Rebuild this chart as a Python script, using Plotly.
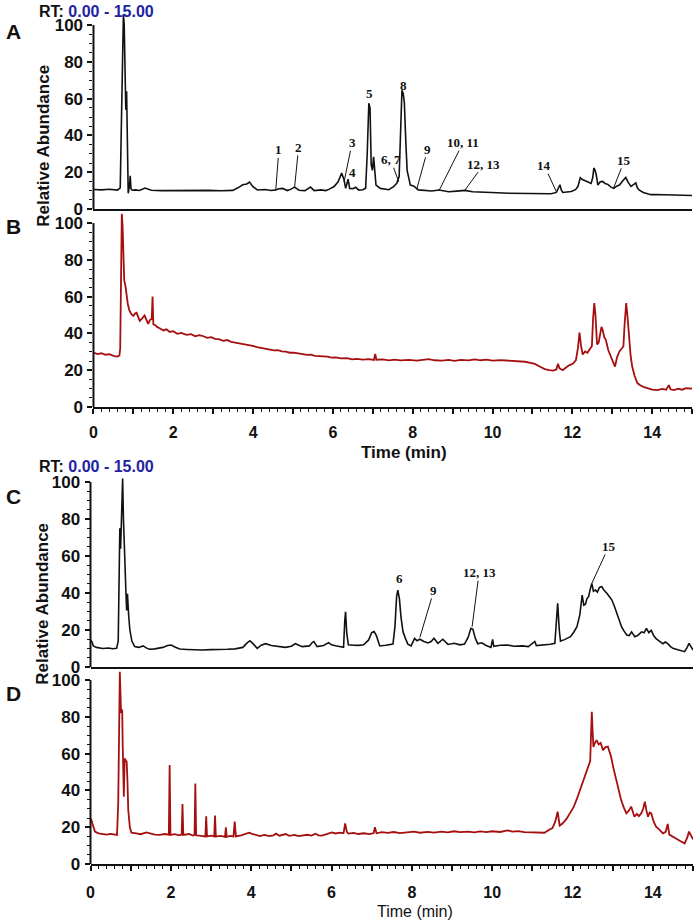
import plotly.graph_objects as go

# ---------------- data ----------------
A_t = [0.00, 0.20, 0.40, 0.60, 0.67, 0.70, 0.73, 0.75, 0.77, 0.79, 0.81, 0.83, 0.85, 0.87, 0.90, 0.92, 0.94, 0.97,
       1.05, 1.15, 1.29, 1.45, 1.70, 2.00, 2.30, 2.60, 2.90, 3.20, 3.49, 3.62, 3.74, 3.84, 3.91, 3.99, 4.11, 4.30,
       4.45, 4.57, 4.65, 4.74, 4.86, 4.95, 5.04, 5.15, 5.30, 5.44, 5.53, 5.70, 5.82, 5.91, 6.03, 6.13, 6.22, 6.28,
       6.32, 6.38, 6.42, 6.50, 6.57, 6.65, 6.75, 6.82, 6.86, 6.90, 6.93, 6.96, 6.99, 7.02, 7.05, 7.08, 7.19, 7.30,
       7.40, 7.52, 7.60, 7.66, 7.70, 7.73, 7.76, 7.79, 7.83, 7.86, 7.94, 8.02, 8.14, 8.30, 8.48, 8.66, 8.90, 9.10,
       9.31, 9.50, 9.72, 9.90, 10.13, 10.40, 10.70, 10.97, 11.20, 11.47, 11.60, 11.66, 11.69, 11.72, 11.76, 11.97,
       12.08, 12.14, 12.20, 12.25, 12.30, 12.38, 12.47, 12.51, 12.54, 12.57, 12.60, 12.64, 12.70, 12.76, 12.82,
       12.89, 12.96, 13.04, 13.11, 13.18, 13.26, 13.34, 13.40, 13.47, 13.55, 13.59, 13.63, 13.68, 13.78, 13.90,
       13.97, 14.10, 14.30, 14.50, 14.70, 14.90, 15.00]
A_v = [10.6, 10.4, 10.7, 10.3, 11.5, 45.0, 80.0, 106.0, 100.0, 72.0, 54.0, 64.0, 40.0, 8.5, 12.0, 18.0, 11.0, 10.2,
       10.4, 10.1, 11.4, 10.2, 10.0, 10.1, 9.9, 10.0, 10.1, 9.9, 10.1, 11.5, 13.2, 13.6, 14.6, 12.3, 10.3, 10.6,
       10.1, 10.4, 11.0, 11.2, 10.0, 10.8, 11.9, 10.2, 10.0, 11.9, 10.0, 10.4, 10.0, 10.8, 12.2, 14.8, 19.5, 15.8,
       11.2, 16.2, 11.2, 11.0, 11.8, 10.3, 10.5, 11.3, 30.0, 57.5, 55.0, 24.0, 21.0, 28.4, 20.0, 13.0, 11.2, 11.0,
       10.5, 12.1, 14.0, 17.6, 40.0, 64.5, 63.0, 58.0, 35.0, 21.0, 13.0, 12.5, 10.4, 10.0, 9.8, 10.3, 9.4, 9.7,
       10.1, 9.4, 9.1, 9.0, 8.8, 8.6, 8.5, 8.3, 8.4, 8.3, 9.0, 11.5, 13.2, 10.5, 9.0, 9.5,
       10.5, 12.2, 17.0, 16.0, 15.4, 14.8, 13.9, 17.0, 22.3, 21.0, 18.5, 13.0, 14.8, 15.0, 13.8,
       13.4, 12.0, 11.2, 12.4, 13.0, 15.2, 17.2, 14.5, 12.3, 13.5, 14.2, 11.5, 10.2, 9.0, 8.2,
       7.8, 7.9, 7.7, 7.8, 7.5, 7.4, 7.3]

B_t = [0.00, 0.10, 0.20, 0.30, 0.40, 0.50, 0.60, 0.65, 0.67, 0.69, 0.71, 0.73, 0.75, 0.77, 0.80, 0.82, 0.86, 0.90,
       0.95, 1.00, 1.04, 1.08, 1.12, 1.16, 1.22, 1.28, 1.33, 1.37, 1.42, 1.46, 1.48, 1.50, 1.55, 1.60, 1.66, 1.75,
       1.83, 1.91, 2.00, 2.10, 2.20, 2.33, 2.45, 2.55, 2.65, 2.74, 2.85, 2.95, 3.05, 3.16, 3.25, 3.35, 3.45, 3.57,
       3.68, 3.78, 3.88, 3.99, 4.10, 4.20, 4.30, 4.41, 4.52, 4.62, 4.72, 4.82, 4.92, 5.02, 5.13, 5.24, 5.35, 5.45,
       5.55, 5.65, 5.76, 5.86, 5.96, 6.07, 6.20, 6.35, 6.48, 6.60, 6.75, 6.90, 7.03, 7.06, 7.09, 7.25, 7.40, 7.55,
       7.70, 7.90, 8.10, 8.25, 8.40, 8.55, 8.73, 8.90, 9.05, 9.20, 9.40, 9.56, 9.70, 9.85, 10.00, 10.20, 10.39,
       10.60, 10.81, 10.95, 11.06, 11.18, 11.31, 11.42, 11.52, 11.60, 11.64, 11.68, 11.76, 11.85, 11.93, 12.02,
       12.09, 12.14, 12.18, 12.22, 12.26, 12.32, 12.38, 12.44, 12.49, 12.52, 12.55, 12.58, 12.62, 12.66, 12.70,
       12.73, 12.76, 12.80, 12.84, 12.90, 12.97, 13.03, 13.07, 13.12, 13.18, 13.24, 13.28, 13.31, 13.35, 13.38,
       13.42, 13.46, 13.50, 13.56, 13.63, 13.70, 13.80, 13.90, 14.00, 14.13, 14.25, 14.35, 14.42, 14.46, 14.55,
       14.65, 14.75, 14.85, 14.95, 15.00]
B_v = [29.5, 28.8, 29.2, 28.4, 28.7, 27.8, 27.4, 28.0, 32.0, 70.0, 105.0, 98.0, 80.0, 69.0, 66.0, 62.0, 56.0, 52.5,
       50.5, 49.5, 50.8, 51.2, 48.5, 46.8, 48.2, 49.8, 47.2, 45.2, 47.5, 47.8, 60.0, 45.0, 44.5, 43.4, 42.8, 41.6,
       42.2, 40.8, 41.2, 39.8, 40.3, 39.2, 39.6, 38.4, 39.0, 38.6, 37.6, 38.0, 37.0, 36.8, 36.0, 36.4, 35.4, 35.0,
       34.6, 34.0, 33.6, 33.2, 32.6, 32.2, 31.6, 31.3, 30.8, 30.9, 30.2, 30.1, 29.5, 29.6, 29.0, 28.8, 28.3, 28.4,
       27.8, 27.7, 27.2, 27.4, 26.8, 27.0, 26.4, 26.6, 25.9, 26.2, 25.8, 26.0, 25.6, 28.8, 25.7, 25.9, 25.4, 25.8,
       25.3, 25.6, 25.2, 25.7, 26.0, 25.4, 25.2, 25.6, 25.1, 25.6, 25.3, 25.9, 25.4, 25.7, 25.2, 25.5, 25.2,
       25.0, 24.6, 24.0, 23.4, 22.0, 20.6, 20.0, 19.8, 20.4, 23.5, 21.0, 20.0, 21.6, 22.8, 23.6,
       25.5, 32.0, 40.5, 33.0, 28.5, 30.2, 29.5, 31.5, 33.0, 48.0, 56.5, 50.0, 34.0, 35.0, 40.5,
       43.5, 42.0, 38.0, 36.5, 31.0, 27.2, 23.5, 22.0, 27.0, 30.2, 31.8, 33.0, 45.0, 56.5, 50.0,
       38.0, 28.0, 22.0, 17.0, 13.0, 11.8, 10.8, 10.2, 9.5, 9.2, 9.8, 9.4, 11.9, 9.6, 9.2,
       10.0, 9.4, 10.2, 9.8, 10.0]

C_t = [0.00, 0.04, 0.07, 0.15, 0.30, 0.45, 0.55, 0.65, 0.69, 0.71, 0.73, 0.75, 0.77, 0.80, 0.82, 0.84, 0.86, 0.88,
       0.90, 0.92, 0.95, 0.98, 1.03, 1.10, 1.20, 1.31, 1.40, 1.47, 1.60, 1.80, 1.92, 2.01, 2.10, 2.22, 2.40, 2.60,
       2.79, 3.00, 3.20, 3.40, 3.60, 3.79, 3.90, 3.97, 4.05, 4.15, 4.25, 4.36, 4.50, 4.65, 4.85, 5.00, 5.10, 5.27,
       5.45, 5.52, 5.56, 5.64, 5.80, 5.93, 6.00, 6.10, 6.20, 6.30, 6.33, 6.35, 6.38, 6.42, 6.55, 6.67, 6.80, 6.92,
       7.00, 7.06, 7.12, 7.20, 7.35, 7.53, 7.58, 7.62, 7.65, 7.69, 7.73, 7.78, 7.84, 7.90, 7.98, 8.07, 8.13, 8.20,
       8.30, 8.40, 8.48, 8.55, 8.65, 8.77, 8.90, 9.05, 9.20, 9.31, 9.40, 9.47, 9.52, 9.58, 9.64, 9.74, 9.85, 9.97,
       10.01, 10.04, 10.20, 10.38, 10.55, 10.75, 10.90, 11.06, 11.10, 11.30, 11.45, 11.56, 11.60, 11.63, 11.67,
       11.70, 11.80, 11.95, 12.03, 12.11, 12.18, 12.24, 12.28, 12.32, 12.36, 12.40, 12.44, 12.48, 12.52, 12.57,
       12.62, 12.67, 12.73, 12.78, 12.86, 12.92, 12.98, 13.04, 13.10, 13.16, 13.22, 13.28, 13.35, 13.41, 13.47,
       13.55, 13.62, 13.68, 13.72, 13.78, 13.84, 13.90, 13.96, 14.02, 14.08, 14.16, 14.25, 14.31, 14.37, 14.44,
       14.50, 14.60, 14.70, 14.79, 14.85, 14.90, 14.96, 15.00]
C_v = [14.6, 13.5, 11.4, 10.6, 10.0, 10.3, 9.9, 10.1, 14.0, 55.0, 75.0, 64.0, 85.0, 102.0, 80.0, 63.0, 45.0, 41.6,
       30.6, 39.6, 28.0, 20.0, 14.0, 11.0, 10.6, 11.4, 10.2, 9.6, 9.8, 10.6, 11.6, 11.9, 10.8, 9.7, 9.5, 9.3,
       9.2, 9.4, 9.3, 9.6, 9.8, 10.6, 13.0, 14.2, 12.5, 10.1, 11.8, 12.6, 11.6, 11.0, 10.6, 11.2, 12.6, 11.0,
       11.4, 13.2, 13.7, 11.0, 11.6, 13.2, 12.0, 11.5, 11.2, 10.6, 25.0, 29.9, 18.0, 12.0, 11.8, 11.7, 12.0, 14.5,
       18.6, 19.2, 16.8, 11.4, 11.8, 12.4, 22.0, 38.0, 41.6, 37.0, 27.0, 19.0, 15.5, 12.4, 11.4, 15.5, 14.2, 15.0,
       13.8, 13.0, 13.8, 15.5, 12.8, 15.0, 12.2, 12.8, 12.0, 12.4, 16.0, 20.9, 20.4, 15.5, 12.6, 13.1, 11.6, 10.6,
       14.9, 11.2, 11.8, 11.9, 11.2, 11.4, 11.0, 13.8, 11.6, 11.8, 12.3, 12.8, 24.0, 34.4, 20.0,
       14.0, 14.8, 16.4, 18.8, 21.8, 28.0, 38.9, 33.4, 34.0, 37.0, 38.0, 42.0, 45.2, 41.0, 41.6,
       40.5, 43.0, 43.4, 41.6, 39.8, 38.2, 36.2, 33.0, 29.0, 25.0, 21.8, 19.5, 17.3, 17.0, 19.0,
       16.4, 17.0, 18.2, 19.0, 18.5, 20.9, 18.6, 19.8, 17.0, 15.3, 14.0, 12.6, 13.5, 12.6, 11.0,
       10.1, 9.5, 9.0, 8.3, 10.5, 12.8, 10.6, 9.2]

D_t = [0.00, 0.03, 0.06, 0.11, 0.20, 0.30, 0.40, 0.50, 0.60, 0.66, 0.69, 0.71, 0.73, 0.75, 0.76, 0.78, 0.79, 0.80,
       0.82, 0.83, 0.85, 0.87, 0.90, 0.92, 0.94, 0.98, 1.02, 1.14, 1.25, 1.39, 1.50, 1.60, 1.72, 1.85, 1.95, 1.97,
       1.99, 2.10, 2.20, 2.27, 2.29, 2.31, 2.45, 2.55, 2.59, 2.61, 2.63, 2.75, 2.86, 2.88, 2.90, 3.00, 3.08, 3.10,
       3.12, 3.25, 3.35, 3.37, 3.39, 3.48, 3.56, 3.59, 3.62, 3.75, 3.88, 3.95, 4.02, 4.11, 4.22, 4.33, 4.45, 4.55,
       4.62, 4.70, 4.86, 4.95, 5.08, 5.18, 5.27, 5.40, 5.50, 5.60, 5.68, 5.76, 5.88, 6.01, 6.10, 6.20, 6.30, 6.34,
       6.38, 6.42, 6.55, 6.67, 6.80, 6.95, 7.05, 7.08, 7.12, 7.25, 7.40, 7.55, 7.70, 7.90, 8.05, 8.20, 8.40, 8.55,
       8.73, 8.90, 9.05, 9.20, 9.40, 9.55, 9.70, 9.85, 10.00, 10.20, 10.38, 10.50, 10.65, 10.80, 10.95, 11.10,
       11.20, 11.30, 11.41, 11.50, 11.57, 11.63, 11.68, 11.75, 11.85, 11.94, 12.03, 12.11, 12.19, 12.27, 12.34,
       12.40, 12.44, 12.46, 12.48, 12.50, 12.52, 12.56, 12.60, 12.65, 12.70, 12.76, 12.82, 12.88, 12.92, 12.96,
       13.02, 13.09, 13.15, 13.21, 13.28, 13.34, 13.40, 13.46, 13.54, 13.60, 13.65, 13.71, 13.76, 13.80, 13.84,
       13.88, 13.92, 13.96, 14.02, 14.08, 14.15, 14.25, 14.32, 14.37, 14.41, 14.50, 14.58, 14.68, 14.79, 14.85,
       14.90, 14.96, 15.00]
D_v = [24.8, 23.5, 21.0, 17.6, 16.7, 16.3, 16.0, 16.4, 15.8, 15.8, 33.0, 75.0, 104.5, 90.0, 82.0, 84.0, 83.0, 66.5,
       48.0, 36.6, 57.4, 56.5, 55.6, 45.0, 29.3, 20.0, 17.0, 16.7, 16.2, 17.2, 16.5, 16.0, 15.8, 16.3, 15.9, 53.8,
       15.8, 16.2, 15.6, 16.0, 32.6, 15.8, 16.3, 15.5, 15.8, 43.8, 15.6, 15.2, 15.0, 26.0, 15.0, 15.4, 15.0, 26.3,
       15.0, 15.3, 14.8, 20.0, 14.8, 15.3, 15.0, 23.0, 15.0, 15.6, 16.4, 17.0, 16.4, 15.8, 15.2, 15.8, 15.2, 15.6,
       16.5, 15.4, 16.3, 15.3, 15.8, 15.2, 15.6, 15.9, 15.4, 16.5, 15.6, 15.4, 16.2, 17.2, 16.6, 17.0, 16.8, 22.1,
       17.5, 16.5, 16.9, 16.3, 16.7, 16.2, 16.8, 20.0, 16.7, 17.3, 16.9, 17.4, 16.8, 17.2, 17.6, 17.0, 17.5, 17.1,
       17.6, 17.2, 17.8, 17.3, 17.6, 17.2, 17.7, 17.3, 17.8, 17.4, 18.3, 17.6, 17.9, 17.3, 17.2, 16.8,
       16.7, 17.0, 18.5, 19.5, 23.0, 28.4, 20.9, 22.0, 24.5, 27.4, 31.0, 35.5, 40.2, 45.0, 49.0,
       52.9, 56.0, 70.0, 82.8, 72.0, 63.6, 66.0, 67.3, 65.0, 65.8, 61.9, 63.5, 63.8, 61.0, 58.3,
       52.0, 45.7, 39.0, 34.8, 30.5, 27.5, 29.0, 31.2, 25.7, 27.2, 26.0, 27.5, 30.0, 33.9, 29.0,
       25.7, 28.0, 27.5, 23.0, 20.3, 19.0, 16.7, 17.5, 21.8, 16.0, 14.8, 13.4, 12.5, 11.2, 14.0,
       17.6, 15.0, 13.4]

# peak labels: (text, retention time, abundance, text offset x px, text offset y px)
A_labels = [("1", 4.57, 10.9, 3, -39), ("2", 5.04, 11.8, 4, -40), ("3", 6.28, 14.8, 8, -39),
            ("6, 7", 7.65, 14.8, -8, -22), ("9", 8.10, 10.7, 11, -40), ("10, 11", 8.66, 10.0, 24, -48),
            ("12, 13", 9.31, 10.3, 19, -26), ("14", 11.60, 9.4, -12, -26), ("15", 13.03, 11.2, 11, -28)]
A_plain_labels = [("4", 6.48, 19.6), ("5", 6.92, 62.9), ("8", 7.77, 67.4)]
C_labels = [("9", 8.20, 16.0, 14, -47), ("12, 13", 9.50, 21.8, 7, -54), ("15", 12.48, 45.2, 17, -37)]
C_plain_labels = [("6", 7.70, 48.1)]

x_major = list(range(0, 16))
x_labels = [str(v) if v % 2 == 0 else "" for v in x_major]
x_minor = [round(i * 0.2, 1) for i in range(76) if i % 5 != 0]
y_major = [0, 20, 40, 60, 80, 100]
y_minor = [v for v in range(5, 100, 5) if v % 20 != 0]

# ---------------- styling ----------------
SANS = "Liberation Sans, Arial, sans-serif"
SERIF = "Liberation Serif, Times New Roman, serif"
BLACK = "#111111"
RED = "#a50f0f"
BLUE = "#1f23a3"

W, H = 699, 931          # page is photographed at 921 px tall; layout fractions follow the 699x921 reference
REF_H = 921

XDOM_TOP = [90 / W, 692 / W]
XDOM_BOT = [87 / W, 693 / W]
YDOM = {"A": [1 - 209 / REF_H, 1 - 14 / REF_H], "B": [1 - 407 / REF_H, 1 - 212 / REF_H],
        "C": [1 - 667 / REF_H, 1 - 471 / REF_H], "D": [1 - 864 / REF_H, 1 - 669 / REF_H]}

fig = go.Figure()
fig.add_trace(go.Scatter(x=A_t, y=A_v, mode="lines", line=dict(color=BLACK, width=1.6), xaxis="x", yaxis="y"))
fig.add_trace(go.Scatter(x=B_t, y=B_v, mode="lines", line=dict(color=RED, width=1.8), xaxis="x2", yaxis="y2"))
fig.add_trace(go.Scatter(x=C_t, y=C_v, mode="lines", line=dict(color=BLACK, width=1.6), xaxis="x3", yaxis="y3"))
fig.add_trace(go.Scatter(x=D_t, y=D_v, mode="lines", line=dict(color=RED, width=1.8), xaxis="x4", yaxis="y4"))


def yaxis(dom, anchor):
    return dict(domain=dom, anchor=anchor, range=[0, 106], showline=False, showgrid=False, zeroline=False,
                ticks="outside", tickmode="array", tickvals=y_major, ticklen=5, tickwidth=1.6, tickcolor=BLACK,
                tickfont=dict(family=SANS, size=17, color=BLACK, weight="bold"), ticklabelstandoff=1,
                minor=dict(tickmode="array", tickvals=y_minor, ticks="outside", ticklen=3, tickwidth=1.3,
                           tickcolor=BLACK))


def xaxis_plain(dom, anchor):
    return dict(domain=dom, anchor=anchor, range=[0, 15], showline=True, linecolor=BLACK, linewidth=2,
                showgrid=False, zeroline=False, ticks="", showticklabels=False)


def xaxis_ticks(dom, anchor, standoff):
    return dict(domain=dom, anchor=anchor, range=[0, 15], showline=True, linecolor=BLACK, linewidth=2,
                showgrid=False, zeroline=False, ticks="outside", tickmode="array", tickvals=x_major,
                ticktext=x_labels, ticklen=5, tickwidth=1.6, tickcolor=BLACK, ticklabelstandoff=standoff,
                tickfont=dict(family=SANS, size=16, color=BLACK, weight="bold"),
                minor=dict(tickmode="array", tickvals=x_minor, ticks="outside", ticklen=2.5, tickwidth=1.1,
                           tickcolor=BLACK))


fig.update_layout(
    width=W, height=H, margin=dict(l=0, r=0, t=0, b=0),
    paper_bgcolor="white", plot_bgcolor="white", showlegend=False,
    xaxis=xaxis_plain(XDOM_TOP, "y"), yaxis=yaxis(YDOM["A"], "x"),
    xaxis2=xaxis_ticks(XDOM_TOP, "y2", 5), yaxis2=yaxis(YDOM["B"], "x2"),
    xaxis3=xaxis_plain(XDOM_BOT, "y3"), yaxis3=yaxis(YDOM["C"], "x3"),
    xaxis4=xaxis_ticks(XDOM_BOT, "y4", 8), yaxis4=yaxis(YDOM["D"], "x4"),
)

# y axis lines ending at 100
for xr, yr in [("x", "y"), ("x2", "y2"), ("x3", "y3"), ("x4", "y4")]:
    fig.add_shape(type="line", xref=f"{xr} domain", yref=yr, x0=0, x1=0, y0=0, y1=100,
                  line=dict(color=BLACK, width=2))

ann = []


def paper_text(text, x, y, size, angle=0):
    return dict(text=text, xref="paper", yref="paper", x=x / W, y=1 - y / REF_H, xanchor="center",
                yanchor="middle", textangle=angle, showarrow=False,
                font=dict(family=SANS, size=size, color=BLACK))


# panel letters
for letter, y in [("A", 31), ("B", 226), ("C", 496), ("D", 693)]:
    ann.append(paper_text(f"<b>{letter}</b>", 10, y, 21))
# RT headers
for y in [11, 466]:
    ann.append(paper_text(f"<b>RT: <span style='color:{BLUE}'>0.00 - 15.00</span></b>", 93, y, 16))
# y titles
ann.append(paper_text("<b>Relative Abundance</b>", 40, 146, 17, -90))
ann.append(paper_text("<b>Relative Abundance</b>", 38, 604, 17, -90))
# x titles
ann.append(paper_text("<b>Time (min)</b>", 402, 452, 17))
ann.append(paper_text("Time (min)", 413, 911, 16))

# peak labels
for labels, xr, yr in [(A_labels, "x", "y"), (C_labels, "x3", "y3")]:
    for text, t, v, ax, ay in labels:
        ann.append(dict(text=f"<b>{text}</b>", xref=xr, yref=yr, x=t, y=v, ax=ax, ay=ay, showarrow=True,
                        arrowhead=0, arrowwidth=1, arrowcolor=BLACK, standoff=0, startstandoff=0,
                        font=dict(family=SERIF, size=13, color=BLACK), borderpad=0))
for labels, xr, yr in [(A_plain_labels, "x", "y"), (C_plain_labels, "x3", "y3")]:
    for text, t, v in labels:
        ann.append(dict(text=f"<b>{text}</b>", xref=xr, yref=yr, x=t, y=v, showarrow=False,
                        font=dict(family=SERIF, size=13, color=BLACK)))

fig.update_layout(annotations=ann)
fig.write_html(
    "out.html",
    config={"displayModeBar": False},
    post_script=("document.documentElement.style.margin='0px';document.body.style.margin='0px';"
                 "document.documentElement.style.overflow='hidden';document.body.style.overflow='hidden';"),
)
